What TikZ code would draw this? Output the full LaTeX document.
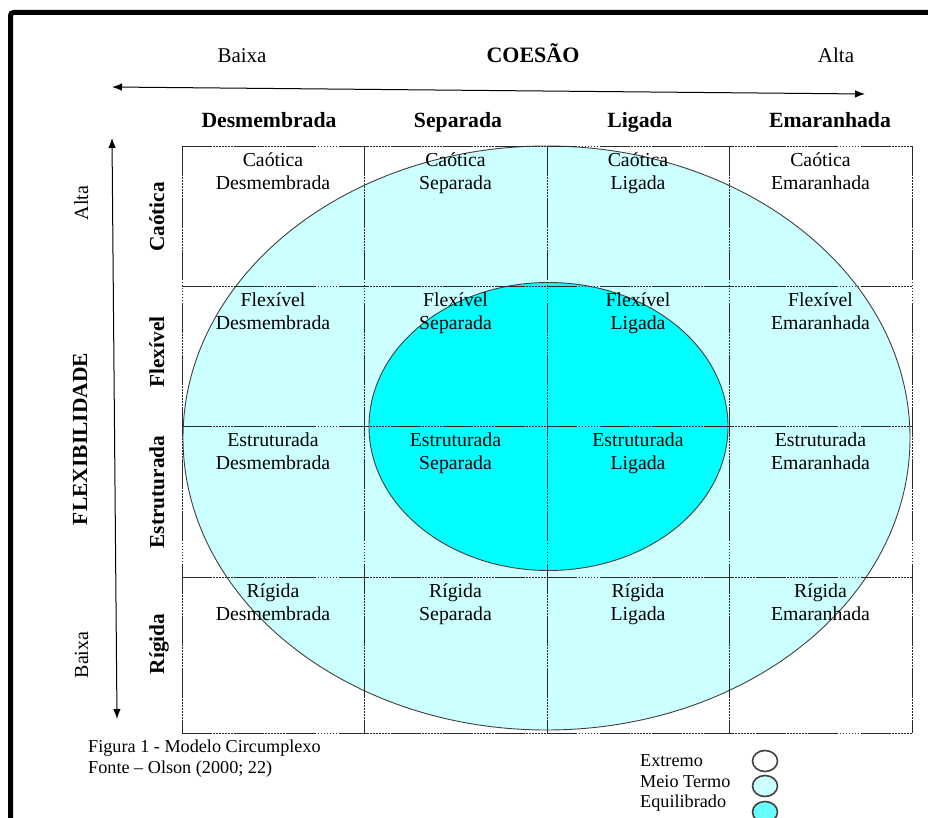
\documentclass[tikz,border=0pt]{standalone}
\usepackage{fontspec}
\setmainfont{Liberation Serif}
\usetikzlibrary{arrows.meta}
\definecolor{lightcy}{HTML}{CCFFFF}
\definecolor{midcy}{HTML}{00FFFF}
\definecolor{legcy}{HTML}{66FFFF}
\definecolor{gridgray}{HTML}{2A2A2A}
\definecolor{ellgray}{HTML}{404040}
\tikzset{
  gridline/.style={draw=gridgray, line width=0.9pt,
    dash pattern=on 30pt off 1.2pt on 1.8pt off 1.2pt on 1.8pt off 1.2pt on 1.8pt off 1.2pt on 1.8pt off 1.2pt on 1.8pt off 1.2pt on 1.8pt off 1.2pt on 1.8pt off 1.2pt},
  ellborder/.style={draw=ellgray, line width=0.9pt},
  celltext/.style={anchor=base, inner sep=0pt, font=\fontsize{19.8}{23}\selectfont},
  colhead/.style={anchor=base, inner sep=0pt, font=\fontsize{21.7}{24}\selectfont\bfseries},
  toptext/.style={anchor=base, inner sep=0pt, font=\fontsize{21}{24}\selectfont},
  rowhead/.style={anchor=base, inner sep=0pt, rotate=90, font=\fontsize{21.3}{24}\selectfont\bfseries},
  sidetext/.style={anchor=base, inner sep=0pt, rotate=90, font=\fontsize{20}{24}\selectfont},
  smalltext/.style={anchor=base west, inner sep=0pt, font=\fontsize{18.2}{21}\selectfont},
  axisarrow/.style={draw=black, line width=1pt, {Latex[length=10pt,width=7.5pt]}-{Latex[length=10pt,width=7.5pt]}},
  legcirc/.style={draw=ellgray, line width=1.6pt}
}
\begin{document}
\begin{tikzpicture}[x=1pt,y=-1pt]
\useasboundingbox (0,0) rectangle (928,818);
% frame
\draw[line width=5pt, rounded corners=3pt] (10.5,820) -- (10.5,12.5) -- (930,12.5);
% ellipses
\fill[lightcy] (546.5,438) ellipse [x radius=363.5, y radius=292];
\draw[ellborder] (546.5,438) ellipse [x radius=363.5, y radius=292];
\fill[midcy] (548.5,426.5) ellipse [x radius=179.5, y radius=144];
\draw[ellborder] (548.5,426.5) ellipse [x radius=179.5, y radius=144];
% grid
\foreach \yy in {146,286,426,577,733} \draw[gridline] (182,\yy) -- (912,\yy);
\foreach \xx in {182,364,547,729,912} \draw[gridline] (\xx,146) -- (\xx,733);
% cell texts
\foreach \r/\rt/\ry in {1/Caótica/146, 2/Flexível/286, 3/Estruturada/426, 4/Rígida/577} {
  \foreach \c/\ct/\cx in {1/Desmembrada/273, 2/Separada/455.5, 3/Ligada/638, 4/Emaranhada/820.5} {
    \node[celltext] (c\r\c-a) at (\cx,\ry+20.5) {\rt};
    \node[celltext] (c\r\c-b) at (\cx,\ry+43.5) {\ct};
  }
}
% top texts
\node[toptext] (tbaixa) at (242,63) {Baixa};
\node[toptext, font=\fontsize{22}{24}\selectfont\bfseries] (tcoesao) at (533,63) {COESÃO};
\node[toptext] (talta) at (836,63) {Alta};
\coordinate (hl) at (112,87);
\coordinate (hr) at (865,94);
\draw[axisarrow] (hl) -- (hr);
% column headers
\node[colhead] (h1) at (269,128) {Desmembrada};
\node[colhead] (h2) at (458,128) {Separada};
\node[colhead] (h3) at (640,128) {Ligada};
\node[colhead] (h4) at (830,128) {Emaranhada};
% left side
\coordinate (vt) at (112,138);
\coordinate (vb) at (117,719);
\draw[axisarrow] (vt) -- (vb);
\node[sidetext] (lalta) at (88,203) {Alta};
\node[sidetext, font=\fontsize{21.5}{24}\selectfont\bfseries] (lflex) at (87,439) {FLEXIBILIDADE};
\node[sidetext] (lbaixa) at (88,655) {Baixa};
\node[rowhead] (r1) at (164,217) {Caótica};
\node[rowhead] (r2) at (164,352) {Flexível};
\node[rowhead] (r3) at (164,492) {Estruturada};
\node[rowhead] (r4) at (164,644) {Rígida};
% caption
\node[smalltext] (cap1) at (88,752) {Figura 1 - Modelo Circumplexo};
\node[smalltext] (cap2) at (88,773) {Fonte – Olson (2000; 22)};
% legend
\node[smalltext] (leg1) at (640,766) {Extremo};
\node[smalltext] (leg2) at (640,787) {Meio Termo};
\node[smalltext] (leg3) at (640,807) {Equilibrado};
\filldraw[legcirc, fill=white] (765,761) ellipse [x radius=12.5, y radius=10.5];
\filldraw[legcirc, fill=lightcy] (765,786) ellipse [x radius=12.5, y radius=10.5];
\filldraw[legcirc, fill=legcy] (765,812) ellipse [x radius=12.5, y radius=10.5];
\end{tikzpicture}
\end{document}
